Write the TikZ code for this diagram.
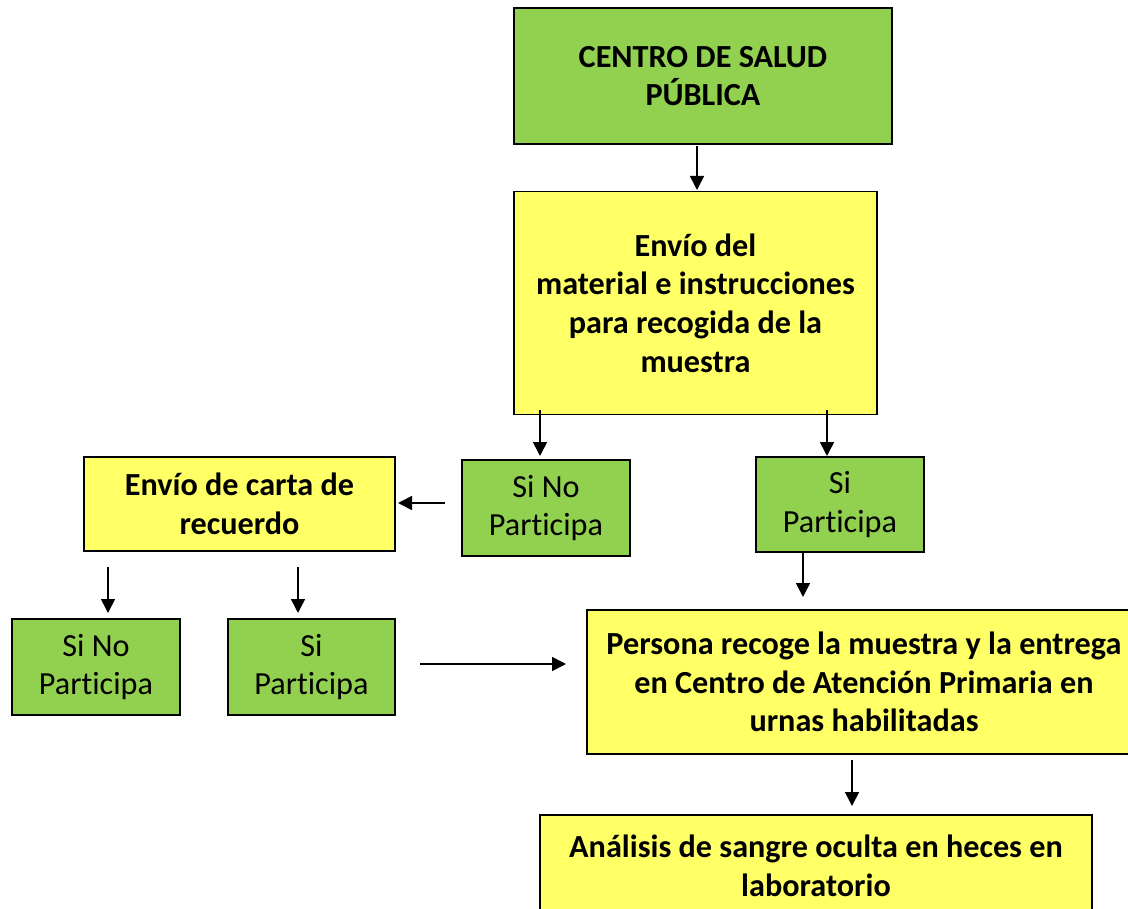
\documentclass[tikz,border=0pt]{standalone}
\usepackage{fontspec}
\setmainfont[Ligatures={NoCommon,NoRare,NoContextual}]{Carlito}
\usetikzlibrary{arrows.meta}
\definecolor{boxgreen}{RGB}{146,208,80}
\definecolor{boxyellow}{RGB}{255,255,102}
\tikzset{
  base/.style={draw=black, line width=1.6pt, align=center, inner sep=0pt, text=black,
    font=\fontsize{32.2}{38.7}\selectfont},
  gbox/.style={base, fill=boxgreen},
  ybox/.style={base, fill=boxyellow, font=\fontsize{32.2}{38.7}\selectfont\bfseries},
  arr/.style={line width=1.6pt, -{Triangle[length=14pt,width=14pt]}}
}
\begin{document}
\begin{tikzpicture}[x=1pt,y=-1pt]
\useasboundingbox (0,0) rectangle (1128,909);
\clip (0,0) rectangle (1128,909);
\fill[white] (0,0) rectangle (1128,909);
% boxes
\node[gbox, font=\fontsize{32.2}{38.7}\selectfont\bfseries, minimum width=378pt, minimum height=136pt] (salud) at (703,76) {CENTRO DE SALUD\\PÚBLICA};
\node[ybox, minimum width=363pt, minimum height=223pt] (envio) at (695.5,303) {Envío del\\material e instrucciones\\para recogida de la\\muestra};
\node[gbox, minimum width=168pt, minimum height=96pt] (nop1) at (546,508) {Si No\\Participa};
\node[gbox, minimum width=168pt, minimum height=95pt] (sip1) at (840,504.5) {Si\\Participa};
\node[ybox, minimum width=311pt, minimum height=94pt] (carta) at (239.5,504) {Envío de carta de\\recuerdo};
\node[gbox, minimum width=168pt, minimum height=96pt] (nop2) at (96,667) {Si No\\Participa};
\node[gbox, minimum width=167pt, minimum height=96pt] (sip2) at (311.5,667) {Si\\Participa};
\node[ybox, minimum width=554pt, minimum height=144pt] (persona) at (864,682) {Persona recoge la muestra y la entrega\\en Centro de Atención Primaria en\\urnas habilitadas};
\node[ybox, minimum width=552pt, minimum height=102pt] (analisis) at (816,866) {Análisis de sangre oculta en heces en\\laboratorio};
% free arrow ends
\coordinate (a1s) at (697,146); \coordinate (a1e) at (697,190);
\coordinate (a2s) at (540,410); \coordinate (a2e) at (540,456);
\coordinate (a3s) at (827,410); \coordinate (a3e) at (827,456);
\coordinate (a4s) at (445,503); \coordinate (a4e) at (398,503);
\coordinate (a5s) at (108,567); \coordinate (a5e) at (108,613);
\coordinate (a6s) at (298,567); \coordinate (a6e) at (298,613);
\coordinate (a7s) at (803,553); \coordinate (a7e) at (803,597);
\coordinate (a8s) at (420,664); \coordinate (a8e) at (566,664);
\coordinate (a9s) at (852,760); \coordinate (a9e) at (852,806);
\draw[arr] (a1s) -- (a1e);
\draw[arr] (a2s) -- (a2e);
\draw[arr] (a3s) -- (a3e);
\draw[arr] (a4s) -- (a4e);
\draw[arr] (a5s) -- (a5e);
\draw[arr] (a6s) -- (a6e);
\draw[arr] (a7s) -- (a7e);
\draw[arr] (a8s) -- (a8e);
\draw[arr] (a9s) -- (a9e);
\end{tikzpicture}
\end{document}
